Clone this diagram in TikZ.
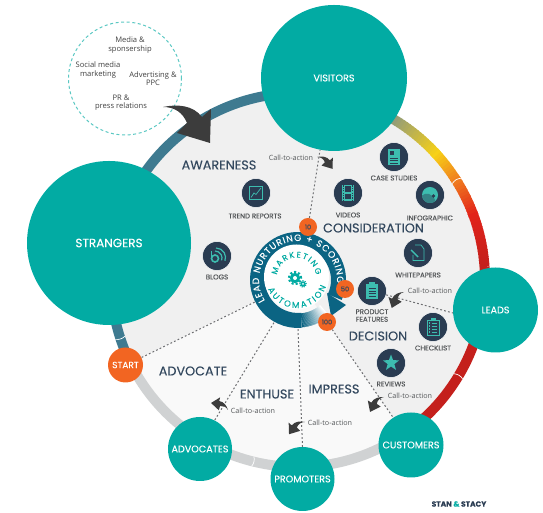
\documentclass[tikz,border=0pt]{standalone}
\usepackage{fontspec}
\setmainfont{Open Sans}
\newfontfamily\posterfont[FakeBold=0.12]{Poppins}
\usetikzlibrary{shapes.geometric,decorations.text}

\definecolor{tealc}{HTML}{02ABA3}
\definecolor{orangec}{HTML}{F26522}
\definecolor{navyc}{HTML}{2A3C52}
\definecolor{headc}{HTML}{34495F}
\definecolor{labelc}{HTML}{55585A}
\definecolor{iconc}{HTML}{3DBDB0}
\definecolor{arrowc}{HTML}{3C3C3C}
\definecolor{linec}{HTML}{6D6E71}
\definecolor{ringblue}{HTML}{3E7A90}
\definecolor{ringolive}{HTML}{8F9A7C}
\definecolor{ringyellow}{HTML}{F7D117}
\definecolor{ringorange}{HTML}{F0801F}
\definecolor{ringred}{HTML}{E2231A}
\definecolor{ringdark}{HTML}{C4201C}
\definecolor{ringgrey}{HTML}{D0D2D3}
\definecolor{hubblue}{HTML}{0B6483}

\tikzset{
	stagec/.style={circle,fill=tealc,text=white,inner sep=0pt,font=\posterfont\fontsize{9.6}{10}\selectfont},
	badgec/.style={circle,fill=orangec,text=headc,inner sep=0pt,minimum size=18pt,font=\posterfont\fontsize{6.6}{7}\selectfont},
	iconnode/.style={circle,fill=navyc,draw=white,line width=.5pt,inner sep=0pt,minimum size=29pt},
	iconlabel/.style={text=labelc,align=center,font=\posterfont\fontsize{7}{7.6}\selectfont},
	heading/.style={text=headc,font=\posterfont\fontsize{12.8}{13}\selectfont},
	ctalabel/.style={text=labelc,font=\fontsize{7.2}{8}\selectfont},
	sourcelabel/.style={text=black!75,align=center,font=\fontsize{7.6}{8.2}\selectfont},
	ctaline/.style={linec,line width=1pt,dash pattern=on 1.8pt off 2.2pt},
	iconline/.style={draw=iconc,line width=.7pt},
	ctaarrow/.pic={
		\fill[arrowc] (0,0) .. controls (14,3) and (30,2) .. (39,-10) -- (48,-2) -- (47,-36) -- (14,-26) -- (24,-16) .. controls (20,-6) and (12,0) .. (0,0) -- cycle;
	}
}

% arc cut in small pieces, colour running from #3 to #4
\newcommand{\arcfade}[6]{
	\foreach \a in {#1,...,#2}{
		\pgfmathtruncatemacro{\m}{100*(\a-#1)/(#2-#1)}
		\draw[line width=#6pt,color={#4!\m!#3}] ([shift={(\a:#5pt)}]ringcentre) arc[start angle=\a,end angle=\a+1.3,radius=#5pt];
	}
}

\begin{document}
\begin{tikzpicture}[x=1pt,y=1pt]
	\useasboundingbox (0,0) rectangle (543,513);
	\coordinate (ringcentre) at (298,233);
	\coordinate (whitecentre) at (296.5,236);

	% Disk
	\fill[black!6] (ringcentre) circle (182pt);
	\begin{scope}
		\clip (ringcentre) circle (182pt);
		\fill[black!2.5] (ringcentre) -- (125.5,148) -- (90,-20) -- (440,-20) -- (393,96) -- (327,191) -- cycle;
	\end{scope}

	% Ring
	\draw[line width=10pt,ringgrey] ([shift={(-154:187pt)}]ringcentre) arc[start angle=-154,end angle=-55,radius=187pt];
	\draw[line width=10pt,ringdark] ([shift={(-55:187pt)}]ringcentre) arc[start angle=-55,end angle=4,radius=187pt];
	\arcfade{4}{20}{ringdark}{ringred}{187}{10}
	\arcfade{20}{32}{ringred}{ringorange}{187}{10}
	\arcfade{32}{42}{ringorange}{ringyellow}{187}{10}
	\arcfade{42}{59}{ringyellow}{ringolive}{187}{10}
	\arcfade{59}{68}{ringolive}{ringblue}{187}{10}
	\draw[line width=10pt,ringblue] ([shift={(68:187pt)}]ringcentre) arc[start angle=68,end angle=206,radius=187pt];
	\foreach \a in {32,-31,-104,198}
		\draw[white,line width=.7pt] ([shift={(\a:182pt)}]ringcentre) to[bend left=25] ([shift={(\a:192pt)}]ringcentre);

	% Sources
	\draw[color=tealc!65,line width=1pt,dash pattern=on 3pt off 2.6pt] (125,434.5) circle (56.5pt);
	\node[sourcelabel] (media) at (130,468) {Media \&\\sponsership};
	\node[sourcelabel] (social) at (98,443) {Social media\\marketing};
	\node[sourcelabel] (advertising) at (153,434) {Advertising \&\\PPC};
	\node[sourcelabel] (press) at (121,410) {PR \&\\press relations};

	% Centre
	\node[circle,minimum size=96pt,inner sep=0pt] (hub) at (298,232) {};
	\arcfade{-85}{-50}{hubblue}{white}{40.5}{14}
	\draw[line width=15pt,hubblue] ([shift={(-25:40.5pt)}]ringcentre) arc[start angle=-25,end angle=275,radius=40.5pt];
	\fill[hubblue] (327,220) -- (346,208) -- (331,197) -- cycle;
	\fill[white] (whitecentre) circle (32.5pt);
	\path[postaction={decorate},decoration={text along path,text align={fit to path},text={|\posterfont\fontsize{9.2}{10}\selectfont\color{white}|LEAD NURTURING + SCORING}}]
		([shift={(212:39pt)}]ringcentre) arc[start angle=212,end angle=-5,radius=39pt];
	\path[postaction={decorate},decoration={text along path,text align={fit to path},text={|\posterfont\fontsize{8.2}{10}\selectfont\color{tealc}|MARKETING}}]
		([shift={(174:19.5pt)}]whitecentre) arc[start angle=174,end angle=6,radius=19.5pt];
	\path[postaction={decorate},decoration={text along path,text align={fit to path},text={|\posterfont\fontsize{8.6}{10}\selectfont\color{tealc}|AUTOMATION}}]
		([shift={(203:31pt)}]whitecentre) arc[start angle=203,end angle=342,radius=31pt];
	% Gears
	\fill[tealc] (295,235) circle (5.2pt);
	\draw[tealc,line width=2.2pt,dash pattern=on 2.1pt off 2pt] (295,235) circle (6pt);
	\fill[white] (295,235) circle (2pt);
	\fill[tealc] (303,229) circle (2.6pt);
	\draw[tealc,line width=1.2pt,dash pattern=on 1.1pt off 1.1pt] (303,229) circle (3.2pt);
	\fill[white] (303,229) circle (1pt);

	% Stages
	\node[stagec,minimum size=146pt] (visitors) at (334,435) {VISITORS};
	\node[stagec,minimum size=164pt,font=\posterfont\fontsize{12}{12}\selectfont] (strangers) at (109,270) {STRANGERS};
	\node[stagec,minimum size=85pt] (leads) at (495.5,203) {LEADS};
	\node[stagec,minimum size=65pt] (customers) at (411,68) {CUSTOMERS};
	\node[stagec,minimum size=64pt] (promoters) at (302.5,34) {PROMOTERS};
	\node[stagec,minimum size=64pt] (advocates) at (200,64) {ADVOCATES};
	\node[circle,fill=orangec,text=white,inner sep=0pt,minimum size=35pt,font=\posterfont\fontsize{9}{9}\selectfont] (start) at (125.5,148) {START};

	% Badges
	\node[badgec] (badgeten) at (308,286) {10};
	\node[badgec] (badgefifty) at (345,224) {50};
	\node[badgec] (badgehundred) at (327,191) {100};

	% Icons
	\node[iconnode] (trendicon) at (256,320) {};
	\node[iconlabel] (trendlabel) at (255,297) {TREND REPORTS};
	\begin{scope}[shift={(trendicon)}]
		\draw[iconline] (-6.5,-6.5) rectangle (6.5,6.5);
		\draw[iconline] (-5,-4.5) -- (-2,0) -- (0,-1.5) -- (5,5);
	\end{scope}
	\node[iconnode] (videoicon) at (348,320) {};
	\node[iconlabel] (videolabel) at (348,298) {VIDEOS};
	\begin{scope}[shift={(videoicon)}]
		\fill[iconc] (-6,-8) rectangle (6,8);
		\fill[navyc] (-3,-6.5) rectangle (3,-.6);
		\fill[navyc] (-3,.6) rectangle (3,6.5);
		\draw[navyc,line width=1pt,dash pattern=on 1.2pt off 1.2pt] (-4.5,-8) -- (-4.5,8);
		\draw[navyc,line width=1pt,dash pattern=on 1.2pt off 1.2pt] (4.5,-8) -- (4.5,8);
	\end{scope}
	\node[iconnode] (caseicon) at (394,356) {};
	\node[iconlabel] (caselabel) at (394,335) {CASE STUDIES};
	\begin{scope}[shift={(caseicon)}]
		\fill[iconc] (-6,-8) rectangle (6,8);
		\fill[navyc] (-4,1.5) rectangle (-.5,6);
		\foreach \y in {-6,-3.5,-1}
			\draw[navyc,line width=.7pt] (-4,\y) -- (4,\y);
	\end{scope}
	\node[iconnode] (infoicon) at (430,318) {};
	\node[iconlabel] (infolabel) at (430,295) {INFOGRAPHIC};
	\begin{scope}[shift={(infoicon)}]
		\fill[iconc] (0,0) circle (8pt);
		\fill[iconc!55!navyc] (-8,-.5) .. controls (-4,3) and (2,2) .. (5.5,-5.8) arc[start angle=-46,end angle=-170,radius=8pt] -- cycle;
		\fill[navyc] (3.5,-1) circle (1.8pt);
	\end{scope}
	\node[iconnode] (whiteicon) at (418,260) {};
	\node[iconlabel] (whitelabel) at (418,238) {WHITEPAPERS};
	\begin{scope}[shift={(whiteicon)}]
		\draw[iconline] (-3,8) -- (3,8) -- (6,4) -- (6,-7.5) -- (-5,-7.5) -- (-5,-2);
		\draw[iconc,line width=1.4pt] (-7,3) -- (0,-4);
	\end{scope}
	\node[iconnode] (blogicon) at (217,257) {};
	\node[iconlabel] (bloglabel) at (217,236) {BLOGS};
	\begin{scope}[shift={(blogicon)}]
		\draw[iconc,line width=1.6pt] (-5.5,5) -- (-5.5,-2.5);
		\draw[iconc,line width=1.6pt] (-2,-2.5) circle (3.5pt);
		\draw[iconc,line width=1.2pt] (-2,5) arc[start angle=90,end angle=-20,radius=7pt];
		\draw[iconc,line width=1.2pt] (-1,8) arc[start angle=90,end angle=-20,radius=9.5pt];
	\end{scope}
	\node[iconnode] (producticon) at (372,222) {};
	\node[iconlabel] (productlabel) at (372,197.5) {PRODUCT\\FEATURES};
	\begin{scope}[shift={(producticon)}]
		\fill[iconc] (-6,-8) rectangle (6,6.5);
		\fill[iconc] (-3,6) rectangle (3,8.5);
		\foreach \y in {-5,-2.5,0,2.5}
			\draw[navyc,line width=.7pt] (-3.5,\y) -- (3.5,\y);
	\end{scope}
	\node[iconnode] (checkicon) at (433,186) {};
	\node[iconlabel] (checklabel) at (433,165) {CHECKLIST};
	\begin{scope}[shift={(checkicon)}]
		\draw[iconline] (-6,-8) rectangle (6,7);
		\fill[iconc] (-2.5,6) rectangle (2.5,8.5);
		\foreach \y in {-5,-2,1,4}{
			\fill[iconc] (-4,\y-.7) rectangle (-2.6,\y+.7);
			\draw[iconc,line width=.7pt] (-1,\y) -- (4,\y);
		}
	\end{scope}
	\node[iconnode] (reviewicon) at (391,150) {};
	\node[iconlabel] (reviewlabel) at (391,129) {REVIEWS};
	\node[star,star points=5,star point ratio=2.4,fill=iconc,inner sep=0pt,minimum size=17pt] (reviewstar) at (reviewicon) {};

	% Stage names
	\node[heading] (awareness) at (219,348) {AWARENESS};
	\node[heading] (consideration) at (373.5,285) {CONSIDERATION};
	\node[heading] (decision) at (378,177) {DECISION};
	\node[heading] (advocate) at (193,142) {ADVOCATE};
	\node[heading] (enthuse) at (267,119) {ENTHUSE};
	\node[heading] (impress) at (334,124) {IMPRESS};

	% Connectors
	\draw[ctaline] (badgeten) -- (visitors.259);
	\draw[ctaline] (producticon) -- (leads.184);
	\draw[ctaline] (badgehundred) -- (customers.123);
	\draw[ctaline] (hub.south) -- (promoters.north);
	\draw[ctaline] (hub.240) -- (advocates.63);
	\draw[ctaline] (hub.206) -- (start.25);

	% Arrows
	\pic[scale=.33] at (317,356) {ctaarrow};
	\pic[rotate=15,xscale=-1,scale=.34] at (404,221) {ctaarrow};
	\pic[rotate=9.5,xscale=-1,scale=.345] at (384,116) {ctaarrow};
	\pic[xscale=-1,scale=.34] at (305,91) {ctaarrow};
	\pic[rotate=-60,xscale=-1,scale=.31] at (228,103) {ctaarrow};
	\pic at (163,406) {ctaarrow};
	\node[ctalabel] (ctavisitors) at (291,355) {Call-to-action};
	\node[ctalabel] (ctaleads) at (430,222) {Call-to-action};
	\node[ctalabel] (ctacustomers) at (410,117) {Call-to-action};
	\node[ctalabel] (ctapromoters) at (330,90) {Call-to-action};
	\node[ctalabel] (ctaadvocates) at (253,102) {Call-to-action};

	\node[text=navyc,font=\posterfont\bfseries\fontsize{7.5}{8}\selectfont] (brand) at (459,9) {STAN {\color{tealc}\&} STACY};
\end{tikzpicture}
\end{document}
